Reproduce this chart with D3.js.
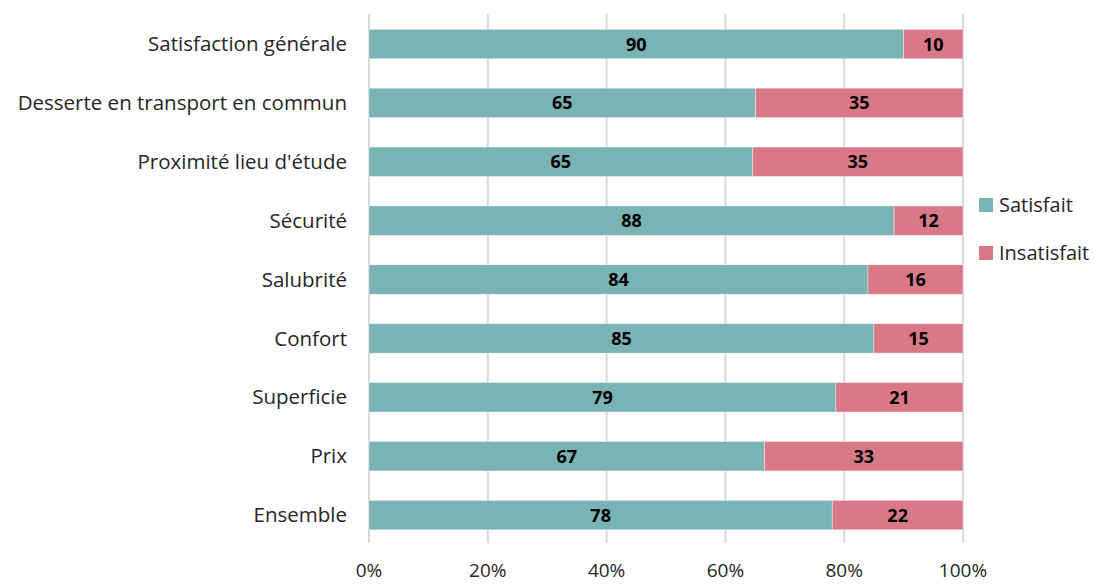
<!DOCTYPE html>
<html>
<head>
<meta charset="utf-8">
<script src="https://cdn.jsdelivr.net/npm/d3@7"></script>
<style>
  body { margin: 0; background: #fff; }
  svg { display: block; font-family: "Open Sans", Lato, sans-serif; }
</style>
</head>
<body>
<div id="chart"></div>
<script>
// categories, top to bottom
let categories = ["Satisfaction générale", "Desserte en transport en commun", "Proximité lieu d'étude",
    "Sécurité", "Salubrité", "Confort", "Superficie", "Prix", "Ensemble"];
// share satisfied / unsatisfied (%)
let satisfait = [90, 65.1, 64.6, 88.4, 84, 85, 78.6, 66.6, 78];
let insatisfait = [10, 34.9, 35.4, 11.6, 16, 15, 21.4, 33.4, 22];
let seriesNames = ["Satisfait", "Insatisfait"];
let colors = ["#7ab3b4", "#d97987"];
let tickValues = [0, 20, 40, 60, 80, 100];

let width = 1095, height = 584;
let x0 = 369, x1 = 963;

let svg = d3.select("#chart").append("svg")
    .attr("width", width)
    .attr("height", height);

let x = d3.scaleLinear().domain([0, 100]).range([x0, x1]);
let y = d3.scaleBand().domain(categories).range([14.6, 544.5])
    .paddingInner(0.5).paddingOuter(0.25);

// gridlines
svg.append("g")
    .selectAll("line")
    .data(tickValues)
    .join("line")
    .attr("x1", d => x(d)).attr("x2", d => x(d))
    .attr("y1", 14).attr("y2", 543)
    .attr("stroke", "#d9d9d9")
    .attr("stroke-width", 2);

// x tick labels
svg.append("g")
    .selectAll("text")
    .data(tickValues)
    .join("text")
    .attr("x", d => x(d))
    .attr("y", 570)
    .attr("dy", "0.35em")
    .attr("text-anchor", "middle")
    .attr("font-size", 19)
    .attr("fill", "#262626")
    .text(d => d + "%");

// stacked bars
let rows = categories.map((c, i) => ({cat: c, values: [satisfait[i], insatisfait[i]]}));
let segs = [];
rows.forEach(r => {
    let start = 0;
    r.values.forEach((v, k) => {
        segs.push({cat: r.cat, k: k, start: start, end: start + v, v: v});
        start += v;
    });
});

svg.append("g")
    .selectAll("rect")
    .data(segs)
    .join("rect")
    .attr("x", d => x(d.start))
    .attr("width", d => x(d.end) - x(d.start))
    .attr("y", d => y(d.cat))
    .attr("height", y.bandwidth())
    .attr("fill", d => colors[d.k])
    .attr("stroke", "#ffffff")
    .attr("stroke-opacity", 0.5)
    .attr("stroke-width", 0.75);

svg.append("g")
    .selectAll("text")
    .data(segs)
    .join("text")
    .attr("x", d => (x(d.start) + x(d.end)) / 2)
    .attr("y", d => y(d.cat) + y.bandwidth() / 2)
    .attr("dy", "0.36em")
    .attr("text-anchor", "middle")
    .attr("font-size", 18)
    .attr("font-weight", "bold")
    .attr("fill", "#000")
    .text(d => Math.round(d.v));

// category labels
svg.append("g")
    .selectAll("text")
    .data(categories)
    .join("text")
    .attr("x", 347)
    .attr("y", d => y(d) + y.bandwidth() / 2)
    .attr("dy", "0.35em")
    .attr("text-anchor", "end")
    .attr("font-size", 20.5)
    .attr("fill", "#262626")
    .text(d => d);

// legend
let legend = svg.append("g")
    .selectAll("g")
    .data(seriesNames)
    .join("g")
    .attr("transform", (d, i) => "translate(979," + (198 + i * 48) + ")");
legend.append("rect")
    .attr("width", 14).attr("height", 14)
    .attr("fill", (d, i) => colors[i]);
legend.append("text")
    .attr("x", 20).attr("y", 7)
    .attr("dy", "0.35em")
    .attr("font-size", 20)
    .attr("fill", "#262626")
    .text(d => d);
</script>
</body>
</html>
